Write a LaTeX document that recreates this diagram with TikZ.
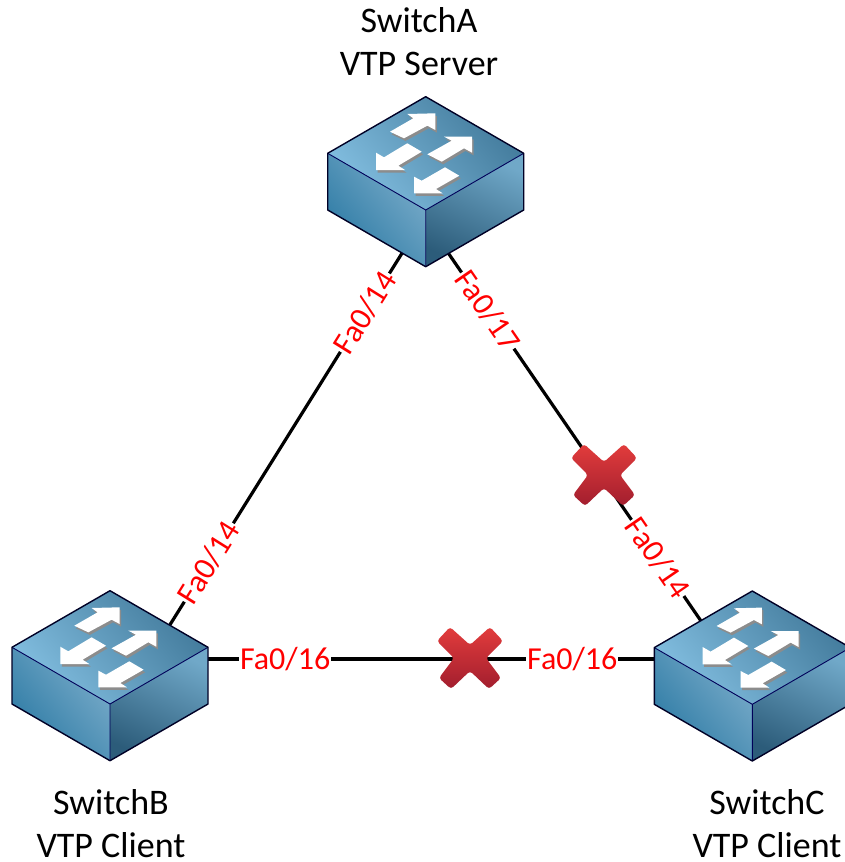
\documentclass[tikz,border=0pt]{standalone}
\usepackage{fontspec}
\setmainfont{Carlito}
\usetikzlibrary{calc}
\definecolor{topdark}{RGB}{66,122,155}
\definecolor{toplight}{RGB}{130,190,224}
\definecolor{leftlight}{RGB}{122,172,202}
\definecolor{leftdark}{RGB}{44,122,164}
\definecolor{rightlight}{RGB}{112,168,200}
\definecolor{rightdark}{RGB}{44,92,122}
\definecolor{xtop}{RGB}{226,60,60}
\definecolor{xbot}{RGB}{162,30,46}
\tikzset{
  switchnode/.style={minimum width=196pt,minimum height=170pt,inner sep=0pt,outer sep=0pt},
  link/.style={draw=black,line width=3.2pt},
  port/.style={text=red,fill=white,inner sep=1pt,font=\fontsize{32}{32}\selectfont},
  caption/.style={text=black,align=center,inner sep=0pt,font=\fontsize{36}{43}\selectfont},
  edgeline/.style={draw=black!85!blue,line width=1.4pt,line join=round},
  innerline/.style={draw=black!65!blue,line width=0.9pt},
  arrowface/.style={fill=white},
  arrowshade/.style={fill=black!45},
  xmark/.style={top color=xtop,bottom color=xbot,rounded corners=3pt}
}
\newcommand{\swface}[2]{% #1 x, #2 y of the top corner
\begin{scope}[shift={(#1,#2)}]
  \shade[top color=topdark,bottom color=toplight,shading angle=-50] (0,0) -- (98,56.6) -- (0,113.3) -- (-98,56.6) -- cycle;
  \shade[top color=leftlight,bottom color=leftdark,shading angle=-50] (-98,56.6) -- (0,113.3) -- (0,170) -- (-98,113.3) -- cycle;
  \shade[top color=rightlight,bottom color=rightdark,shading angle=-25] (98,56.6) -- (0,113.3) -- (0,170) -- (98,113.3) -- cycle;
  \foreach \dx/\dy/\st in {1.5/2.6/arrowshade,0/0/arrowface}{
   \begin{scope}[shift={(\dx,\dy)}]
    \fill[\st] (-35.7,35) -- (-12.4,21.6) -- (-18.4,17.3) -- (9.6,16.6) -- (9.6,33.3) -- (1.6,29) -- (-21.7,41.6) -- cycle;
    \fill[\st] (1.6,57.6) -- (26,44) -- (18.3,40) -- (46.3,40) -- (46.3,56) -- (38.3,51.6) -- (16,65) -- cycle;
    \fill[\st] (-18.4,46.6) -- (-4,55) -- (-27.4,69) -- (-20.7,73.3) -- (-49.7,73.3) -- (-49.7,56) -- (-41.7,60.6) -- cycle;
    \fill[\st] (19.3,70.6) -- (33.6,79) -- (10.3,92.3) -- (17,96.6) -- (-11.7,96.6) -- (-11.7,80) -- (-4,84) -- cycle;
   \end{scope}}
  \draw[innerline] (-98,56.6) -- (0,113.3) -- (98,56.6) (0,113.3) -- (0,170);
  \draw[edgeline] (0,0) -- (98,56.6) -- (98,113.3) -- (0,170) -- (-98,113.3) -- (-98,56.6) -- cycle;
\end{scope}}
\begin{document}
\begin{tikzpicture}[x=1pt,y=-1pt]
\useasboundingbox[fill=white] (0,0) rectangle (844,862);
\node[switchnode] (A) at (425.7,181.7) {};
\node[switchnode] (B) at (110,675.7) {};
\node[switchnode] (C) at (752.3,676) {};
\draw[link] ([shift={(-14,56)}]A.center) -- node[port,sloped,pos=.186] (pab) {Fa0/14} node[port,sloped,pos=.806] (pba) {Fa0/14} ([shift={(50,-35)}]B.center);
\draw[link] ([shift={(12,56)}]A.center) -- node[port,sloped,pos=.183] (pac) {Fa0/17} node[port,sloped,pos=.804] (pca) {Fa0/14} ([shift={(-41,-40)}]C.center);
\draw[link] ([shift={(90,-16.7)}]B.center) -- node[port,pos=.183] (pbc) {Fa0/16} node[port,pos=.8] (pcb) {Fa0/16} ([shift={(-87,-17)}]C.center);
\swface{425.7}{96.7}
\swface{110}{590.7}
\swface{752.3}{591}
\foreach \cx/\cy in {604/475,470/658}{
  \shade[xmark,shift={(\cx,\cy)}] (-33,-17) -- (-20,-31) -- (0,-13) -- (20,-31) -- (33,-17) -- (16,0) -- (31,20) -- (19,31) -- (0,13) -- (-19,31) -- (-31,20) -- (-16,0) -- cycle;
}
\node[caption] (ta) at (419,42) {SwitchA\\VTP Server};
\node[caption] (tb) at (111,824) {SwitchB\\VTP Client};
\node[caption] (tc) at (767,824) {SwitchC\\VTP Client};
\end{tikzpicture}
\end{document}
